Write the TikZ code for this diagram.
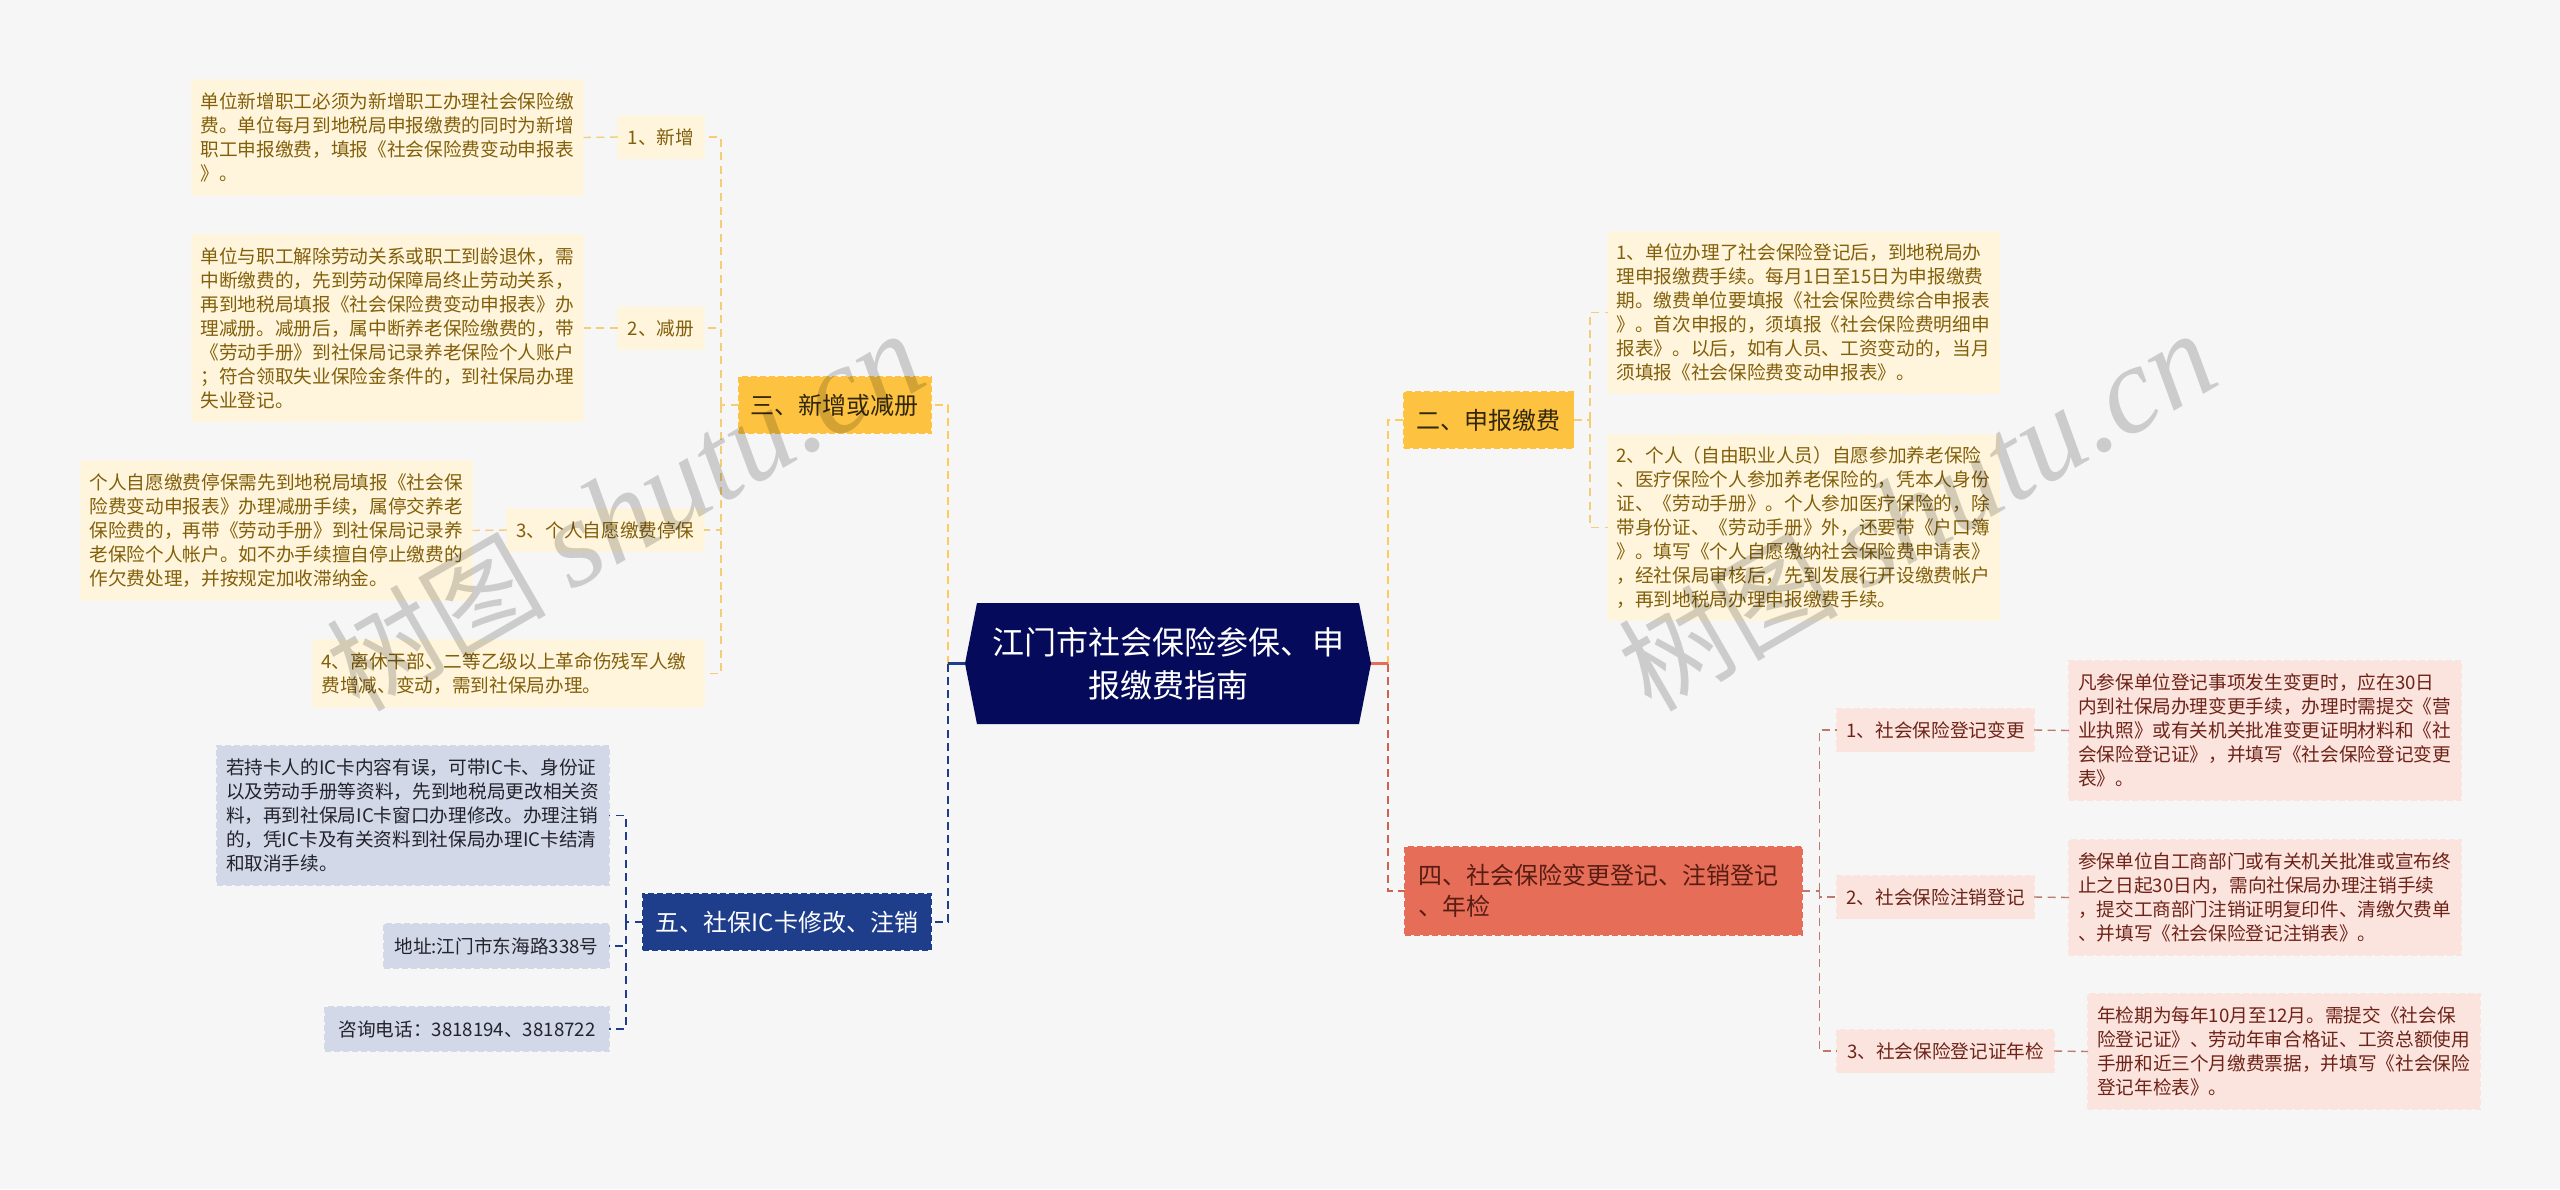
\documentclass[tikz,border=0pt]{standalone}
\usepackage{fontspec}
\usepackage{xcolor}
\usepackage{tikz}
\usetikzlibrary{shapes.symbols}
\setmainfont{Noto Sans CJK SC}
\newfontfamily\markfont{Liberation Serif}

\begin{document}
\begin{tikzpicture}[x=0.5pt, y=-0.5pt,
    smallfont/.style={font=\fontsize{9.33}{12}\selectfont},
    branchfont/.style={font=\fontsize{12}{15.5}\selectfont},
    basebox/.style={dashed, dash pattern=on 3pt off 1.5pt, line width=0.7pt, inner sep=0pt, outer sep=0pt, align=left},
    ynote/.style={basebox, smallfont, fill=ylight, draw=ylight, text=ytext, minimum height=#1, text width=187pt, inner xsep=4.5pt},
    rnote/.style={basebox, smallfont, fill=rlight, draw=rlight, text=rtext, minimum height=#1, text width=187pt, inner xsep=4.5pt},
    bnote/.style={basebox, smallfont, fill=blight, draw=blight, text=btext, minimum height=#1, text width=187pt, inner xsep=4.5pt},
    ylabel/.style={basebox, smallfont, fill=ylight, draw=ylight, text=ytext, minimum height=21.5pt, minimum width=#1},
    rlabel/.style={basebox, smallfont, fill=rlight, draw=rlight, text=rtext, minimum height=21.5pt, minimum width=#1},
    blabel/.style={basebox, smallfont, fill=blight, draw=blight, text=btext, minimum height=22pt, minimum width=#1},
    sublinky/.style={draw=ysub, line width=0.7pt, dash pattern=on 4pt off 2.8pt},
    sublinkr/.style={draw=rsub, line width=0.7pt, dash pattern=on 4pt off 2.8pt},
    sublinkb/.style={draw=bmain, line width=0.7pt, dash pattern=on 4pt off 2.8pt},
    mainlink/.style={line width=1.2pt, dash pattern=on 4pt off 2.6pt},
    wmark/.style={text=black, text opacity=0.17, rotate=30, inner sep=0pt, font=\fontsize{55}{60}\selectfont}]

    % Define colors for the four branches
    \definecolor{pagebg}{RGB}{246,246,246}
    \definecolor{navyroot}{RGB}{5,10,90}
    \definecolor{ylight}{RGB}{255,245,220}
    \definecolor{ymain}{RGB}{253,195,64}
    \definecolor{ysub}{RGB}{243,205,120}
    \definecolor{ytext}{RGB}{130,95,10}
    \definecolor{rlight}{RGB}{251,228,222}
    \definecolor{rmain}{RGB}{230,110,88}
    \definecolor{rsub}{RGB}{190,120,108}
    \definecolor{rtext}{RGB}{110,35,24}
    \definecolor{blight}{RGB}{210,216,232}
    \definecolor{bmain}{RGB}{30,62,140}
    \definecolor{btext}{RGB}{35,35,45}

    \path[use as bounding box, fill=pagebg] (0, 0) rectangle (2560, 1189);

    % Draw the root
    \node (root) at (1168, 663.5) [shape=signal, signal to=west and east, signal pointer angle=157.6, fill=navyroot, text=white, inner sep=0pt, outer sep=0pt, minimum width=203pt, minimum height=60.5pt, text width=180pt, align=center, font=\fontsize{16}{21.5}\selectfont] {江门市社会保险参保、申\\报缴费指南};

    % Draw the branch boxes
    \node (san) at (834.75, 405) [basebox, branchfont, fill=ymain, draw=ymain, text=black!80!ymain, minimum width=96.25pt, minimum height=28pt] {三、新增或减册};
    \node (wu) at (787, 922) [basebox, branchfont, fill=bmain, draw=bmain, text=white, minimum width=144pt, minimum height=28pt] {五、社保IC卡修改、注销};
    \node (er) at (1488.75, 420) [basebox, branchfont, fill=ymain, draw=ymain, text=black!80!ymain, minimum width=84.75pt, minimum height=28pt] {二、申报缴费};
    \node (si) at (1603.5, 891) [basebox, branchfont, fill=rmain, draw=rmain, text=rtext!80!black, minimum height=44pt, text width=185.5pt, inner xsep=6.5pt] {四、社会保险变更登记、注销登记\\、年检};

    % Branch three
    \node (addlabel) at (661, 137) [ylabel=43pt] {1、新增};
    \node (cutlabel) at (661, 328) [ylabel=43pt] {2、减册};
    \node (selflabel) at (605.5, 530) [ylabel=98.5pt] {3、个人自愿缴费停保};
    \node (addnote) at (387.5, 137.5) [ynote=57.5pt] {单位新增职工必须为新增职工办理社会保险缴\\费。单位每月到地税局申报缴费的同时为新增\\职工申报缴费，填报《社会保险费变动申报表\\》。};
    \node (cutnote) at (387.5, 328) [ynote=93pt] {单位与职工解除劳动关系或职工到龄退休，需\\中断缴费的，先到劳动保障局终止劳动关系，\\再到地税局填报《社会保险费变动申报表》办\\理减册。减册后，属中断养老保险缴费的，带\\《劳动手册》到社保局记录养老保险个人账户\\；符合领取失业保险金条件的，到社保局办理\\失业登记。};
    \node (selfnote) at (276.5, 530.5) [ynote=69.5pt] {个人自愿缴费停保需先到地税局填报《社会保\\险费变动申报表》办理减册手续，属停交养老\\保险费的，再带《劳动手册》到社保局记录养\\老保险个人帐户。如不办手续擅自停止缴费的\\作欠费处理，并按规定加收滞纳金。};
    \node (retirenote) at (508.5, 673.5) [ynote=33.5pt] {4、离休干部、二等乙级以上革命伤残军人缴\\费增减、变动，需到社保局办理。};

    % Branch five
    \node (icnote) at (413, 815.5) [bnote=69.5pt] {若持卡人的IC卡内容有误，可带IC卡、身份证\\以及劳动手册等资料，先到地税局更改相关资\\料，再到社保局IC卡窗口办理修改。办理注销\\的，凭IC卡及有关资料到社保局办理IC卡结清\\和取消手续。};
    \node (addrlabel) at (496.5, 946) [blabel=112.5pt] {地址:江门市东海路338号};
    \node (tellabel) at (467, 1029) [blabel=142pt] {咨询电话：3818194、3818722};

    % Branch two
    \node (unitnote) at (1803.5, 312.5) [ynote=80.5pt] {1、单位办理了社会保险登记后，到地税局办\\理申报缴费手续。每月1日至15日为申报缴费\\期。缴费单位要填报《社会保险费综合申报表\\》。首次申报的，须填报《社会保险费明细申\\报表》。以后，如有人员、工资变动的，当月\\须填报《社会保险费变动申报表》。};
    \node (personnote) at (1803.5, 527.5) [ynote=92.75pt] {2、个人（自由职业人员）自愿参加养老保险\\、医疗保险个人参加养老保险的，凭本人身份\\证、《劳动手册》。个人参加医疗保险的，除\\带身份证、《劳动手册》外，还要带《户口簿\\》。填写《个人自愿缴纳社会保险费申请表》\\，经社保局审核后，先到发展行开设缴费帐户\\，再到地税局办理申报缴费手续。};

    % Branch four
    \node (changelabel) at (1935.5, 730) [rlabel=98.5pt] {1、社会保险登记变更};
    \node (closelabel) at (1935.5, 897) [rlabel=98.5pt] {2、社会保险注销登记};
    \node (yearlabel) at (1945.5, 1051) [rlabel=108.5pt] {3、社会保险登记证年检};
    \node (changenote) at (2265, 730.5) [rnote=69.5pt] {凡参保单位登记事项发生变更时，应在30日\\内到社保局办理变更手续，办理时需提交《营\\业执照》或有关机关批准变更证明材料和《社\\会保险登记证》，并填写《社会保险登记变更\\表》。};
    \node (closenote) at (2265, 897.5) [rnote=57.5pt] {参保单位自工商部门或有关机关批准或宣布终\\止之日起30日内，需向社保局办理注销手续\\，提交工商部门注销证明复印件、清缴欠费单\\、并填写《社会保险登记注销表》。};
    \node (yearnote) at (2284, 1051.5) [rnote=57.5pt] {年检期为每年10月至12月。需提交《社会保\\险登记证》、劳动年审合格证、工资总额使用\\手册和近三个月缴费票据，并填写《社会保险\\登记年检表》。};

    % Junctions of the trunks
    \coordinate (leftjoin) at (948, 663.5);
    \coordinate (rightjoin) at (1388, 663.5);
    \coordinate (sanjoin) at (721, 405);
    \coordinate (wujoin) at (626, 922);
    \coordinate (erjoin) at (1590, 420);
    \coordinate (sijoin) at (1819.5, 891);

    % Draw the trunks from the root
    \draw[mainlink, draw=ymain!85!white] (leftjoin) |- (san.east);
    \draw[mainlink, draw=ymain!85!white] (rightjoin) |- (er.west);
    \draw[mainlink, draw=bmain] (leftjoin) |- (wu.east);
    \draw[mainlink, draw=rmain!90!black] (rightjoin) |- (si.west);
    \draw[line width=1.2pt, draw=bmain] (root.west) -- (leftjoin);
    \draw[line width=1.2pt, draw=rmain] (root.east) -- (rightjoin);

    % Draw the links of branch three
    \draw[sublinky] (san.west) -- (sanjoin);
    \draw[sublinky] (sanjoin) |- (addlabel.east);
    \draw[sublinky] (sanjoin) |- (cutlabel.east);
    \draw[sublinky] (sanjoin) |- (selflabel.east);
    \draw[sublinky] (sanjoin) |- (retirenote.east);
    \draw[sublinky] (addlabel.west) -- (addnote.east);
    \draw[sublinky] (cutlabel.west) -- (cutnote.east);
    \draw[sublinky] (selflabel.west) -- (selfnote.east);

    % Draw the links of branch five
    \draw[sublinkb] (wu.west) -- (wujoin);
    \draw[sublinkb] (wujoin) |- (icnote.east);
    \draw[sublinkb] (wujoin) |- (addrlabel.east);
    \draw[sublinkb] (wujoin) |- (tellabel.east);

    % Draw the links of branch two
    \draw[sublinky] (er.east) -- (erjoin);
    \draw[sublinky] (erjoin) |- (unitnote.west);
    \draw[sublinky] (erjoin) |- (personnote.west);

    % Draw the links of branch four
    \draw[sublinkr] (si.east) -- (sijoin);
    \draw[sublinkr] (sijoin) |- (changelabel.west);
    \draw[sublinkr] (sijoin) |- (closelabel.west);
    \draw[sublinkr] (sijoin) |- (yearlabel.west);
    \draw[sublinkr] (changelabel.east) -- (changenote.west);
    \draw[sublinkr] (closelabel.east) -- (closenote.west);
    \draw[sublinkr] (yearlabel.east) -- (yearnote.west);

    % Place the two marks over everything
    \node (markleft) at (625, 512) [wmark] {树图 {\markfont\itshape\fontsize{62}{70}\selectfont shutu.cn}};
    \node (markright) at (1917, 512) [wmark] {树图 {\markfont\itshape\fontsize{62}{70}\selectfont shutu.cn}};

\end{tikzpicture}
\end{document}
